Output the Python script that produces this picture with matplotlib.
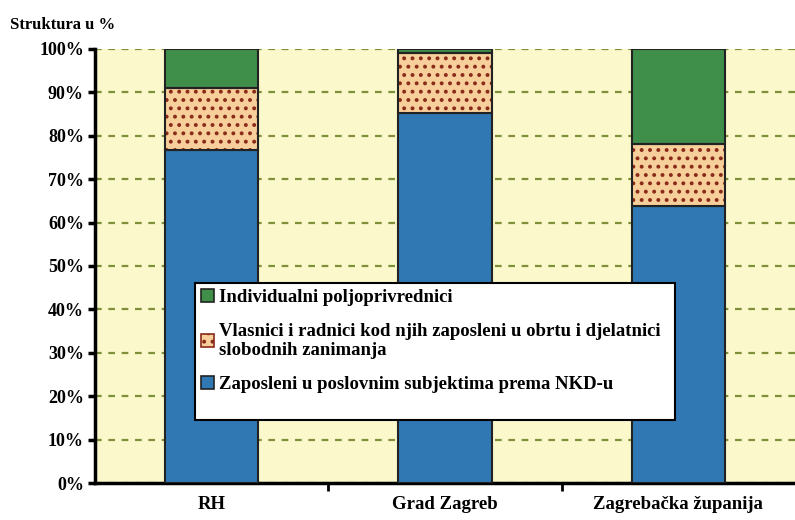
import matplotlib.pyplot as plt
import matplotlib.patches as mpatches
import numpy as np

# podaci
kategorije = ['RH', 'Grad Zagreb', 'Zagrebačka županija']
zaposleni = [76.7, 85.2, 63.8]
obrt = [14.2, 13.9, 14.3]
poljoprivrednici = [9.1, 0.9, 21.9]
oznake_y = ['0%', '10%', '20%', '30%', '40%', '50%', '60%', '70%', '80%', '90%', '100%']

plt.rcParams['font.family'] = ['Liberation Serif', 'DejaVu Serif']
plt.rcParams['font.weight'] = 'bold'
plt.rcParams['hatch.linewidth'] = 1.6

fig = plt.figure(figsize=(7.95, 5.2), dpi=100)
ax = fig.add_axes([0.1195, 0.071, 0.8805, 0.835])
ax.set_facecolor('#fbf8cc')

x = np.arange(len(kategorije))
w = 0.4
dno2 = np.array(zaposleni)
dno3 = dno2 + np.array(obrt)

ax.bar(x, zaposleni, w, color='#2f78b4', edgecolor='#222222', linewidth=1.5, zorder=3)
ax.bar(x, obrt, w, bottom=dno2, facecolor='#f7cf9a', edgecolor='#8a2a1a', hatch='..', linewidth=0, zorder=3)
ax.bar(x, obrt, w, bottom=dno2, facecolor='none', edgecolor='#222222', linewidth=1.5, zorder=4)
ax.bar(x, poljoprivrednici, w, bottom=dno3, color='#3f8e4a', edgecolor='#222222', linewidth=1.5, zorder=3)

ax.set_xlim(-0.5, 2.5)
ax.set_ylim(0, 100)
ax.set_yticks(np.arange(0, 101, 10))
ax.set_yticklabels(oznake_y, fontsize=13, fontweight='bold')
ax.yaxis.grid(True, linestyle=(0, (3, 3)), color='#7f8f3a', linewidth=1.6, zorder=1)

ax.set_xticks(x)
ax.set_xticklabels(kategorije, fontsize=13.5, fontweight='bold')
ax.tick_params(axis='x', which='major', length=0, pad=9)
ax.set_xticks([0.5, 1.5], minor=True)
ax.tick_params(axis='x', which='minor', length=6, width=2, direction='out')
ax.tick_params(axis='y', length=5, width=2.5, pad=3)

for s in ['top', 'right']:
    ax.spines[s].set_visible(False)
ax.spines['left'].set_linewidth(2.5)
ax.spines['bottom'].set_linewidth(2.5)

fig.text(0.012, 0.945, 'Struktura u %', fontsize=12, fontweight='bold', ha='left')

# okvir legende
okvir = mpatches.Rectangle((0.143, 0.145), 0.686, 0.316, transform=ax.transAxes,
                           facecolor='white', edgecolor='black', linewidth=1.5, zorder=5)
ax.add_patch(okvir)

h1 = mpatches.Patch(facecolor='#3f8e4a', edgecolor='#222222', linewidth=1.2)
h2 = mpatches.Patch(facecolor='#f7cf9a', edgecolor='#8a2a1a', hatch='..', linewidth=1.2)
h3 = mpatches.Patch(facecolor='#2f78b4', edgecolor='#222222', linewidth=1.2)
leg = ax.legend([h1, h2, h3],
                ['Individualni poljoprivrednici',
                 'Vlasnici i radnici kod njih zaposleni u obrtu i djelatnici\nslobodnih zanimanja',
                 'Zaposleni u poslovnim subjektima prema NKD-u'],
                loc='upper left', bbox_to_anchor=(0.143, 0.461),
                frameon=False, fontsize=13.5,
                handlelength=0.7, handleheight=0.7, handletextpad=0.3, labelspacing=0.9,
                borderaxespad=0, borderpad=0.3)
leg.set_zorder(6)

fig.savefig('out.png', dpi=100)
